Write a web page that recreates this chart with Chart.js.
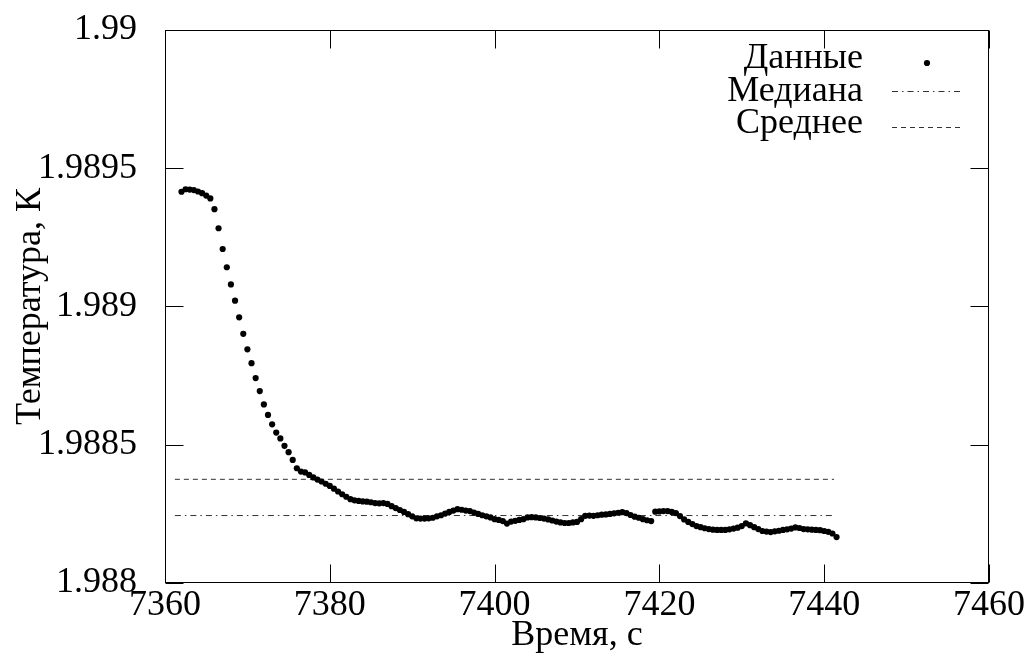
<!DOCTYPE html>
<html>
<head>
<meta charset="utf-8">
<script src="https://cdn.jsdelivr.net/npm/chart.js@4/dist/chart.umd.min.js"></script>
<style>
  body { margin: 0; background: #fff; }
</style>
</head>
<body>
<canvas id="tempChart" width="1027" height="659"></canvas>
<script>
// time, s
const times = [
  7362, 7362.5, 7363, 7363.5, 7364, 7364.5, 7365, 7365.5, 7366, 7366.5,
  7367, 7367.5, 7368, 7368.5, 7369, 7369.5, 7370, 7370.5, 7371, 7371.5,
  7372, 7372.5, 7373, 7373.5, 7374, 7374.5, 7375, 7375.5, 7376, 7376.5,
  7377, 7377.5, 7378, 7378.5, 7379, 7379.5, 7380, 7380.5, 7381, 7381.5,
  7382, 7382.5, 7383, 7383.5, 7384, 7384.5, 7385, 7385.5, 7386, 7386.5,
  7387, 7387.5, 7388, 7388.5, 7389, 7389.5, 7390, 7390.5, 7391, 7391.5,
  7392, 7392.5, 7393, 7393.5, 7394, 7394.5, 7395, 7395.5, 7396, 7396.5,
  7397, 7397.5, 7398, 7398.5, 7399, 7399.5, 7400, 7400.5, 7401, 7401.5,
  7402, 7402.5, 7403, 7403.5, 7404, 7404.5, 7405, 7405.5, 7406, 7406.5,
  7407, 7407.5, 7408, 7408.5, 7409, 7409.5, 7410, 7410.5, 7411, 7411.5,
  7412, 7412.5, 7413, 7413.5, 7414, 7414.5, 7415, 7415.5, 7416, 7416.5,
  7417, 7417.5, 7418, 7418.5, 7419, 7419.5, 7420, 7420.5, 7421, 7421.5,
  7422, 7422.5, 7423, 7423.5, 7424, 7424.5, 7425, 7425.5, 7426, 7426.5,
  7427, 7427.5, 7428, 7428.5, 7429, 7429.5, 7430, 7430.5, 7431, 7431.5,
  7432, 7432.5, 7433, 7433.5, 7434, 7434.5, 7435, 7435.5, 7436, 7436.5,
  7437, 7437.5, 7438, 7438.5, 7439, 7439.5, 7440, 7440.5, 7441, 7441.5
];

// temperature, K
const temps = [
  1.989415, 1.989424, 1.989423, 1.989421, 1.989416, 1.989410, 1.989401, 1.989391, 1.989352, 1.989283,
  1.989208, 1.989142, 1.989080, 1.989021, 1.988961, 1.988901, 1.988845, 1.988795, 1.988741, 1.988694,
  1.988646, 1.988608, 1.988574, 1.988544, 1.988523, 1.988496, 1.988473, 1.988445, 1.988415, 1.988403,
  1.988400, 1.988391, 1.988382, 1.988374, 1.988367, 1.988359, 1.988351, 1.988341, 1.988331, 1.988321,
  1.988312, 1.988303, 1.988299, 1.988297, 1.988295, 1.988294, 1.988292, 1.988289, 1.988288, 1.988289,
  1.988286, 1.988278, 1.988271, 1.988264, 1.988257, 1.988249, 1.988241, 1.988234, 1.988233, 1.988233,
  1.988234, 1.988236, 1.988241, 1.988245, 1.988251, 1.988257, 1.988262, 1.988267, 1.988265, 1.988262,
  1.988260, 1.988255, 1.988250, 1.988245, 1.988241, 1.988237, 1.988231, 1.988228, 1.988224, 1.988215,
  1.988222, 1.988225, 1.988228, 1.988231, 1.988237, 1.988238, 1.988237, 1.988235, 1.988233, 1.988230,
  1.988226, 1.988222, 1.988219, 1.988217, 1.988217, 1.988219, 1.988221, 1.988231, 1.988243, 1.988244,
  1.988243, 1.988245, 1.988247, 1.988248, 1.988250, 1.988252, 1.988254, 1.988256, 1.988253, 1.988246,
  1.988240, 1.988236, 1.988231, 1.988227, 1.988224, 1.988258, 1.988259, 1.988260, 1.988260, 1.988257,
  1.988253, 1.988242, 1.988230, 1.988221, 1.988213, 1.988206, 1.988202, 1.988198, 1.988195, 1.988193,
  1.988192, 1.988192, 1.988192, 1.988194, 1.988197, 1.988200, 1.988206, 1.988216, 1.988209, 1.988202,
  1.988195, 1.988188, 1.988186, 1.988184, 1.988187, 1.988189, 1.988192, 1.988194, 1.988197, 1.988201,
  1.988199, 1.988195, 1.988194, 1.988193, 1.988192, 1.988191, 1.988188, 1.988185, 1.988179, 1.988166
];

const medianValue = 1.988244;
const meanValue = 1.988375;
const lineSpan = [7361.2, 7441.2];

const seriesNames = ['Данные', 'Медиана', 'Среднее'];
const xTicks = [7360, 7380, 7400, 7420, 7440, 7460];
const yTicks = [1.988, 1.9885, 1.989, 1.9895, 1.99];

const FONT = "'Liberation Serif', 'DejaVu Serif', serif";
const FONT_SIZE = 36;

// gnuplot-like frame with inward ticks on all four sides + key in the upper right
const framePlugin = {
  id: 'frame',
  afterDraw(chart) {
    const ctx = chart.ctx;
    const a = chart.chartArea;
    const xs = chart.scales.x, ys = chart.scales.y;
    const L = Math.round(a.left) + 0.5, R = Math.round(a.right) - 0.5;
    const T = Math.round(a.top) + 0.5, B = Math.round(a.bottom) - 0.5;
    const tick = 18;

    ctx.save();
    ctx.strokeStyle = '#000';
    ctx.lineWidth = 1;
    ctx.setLineDash([]);
    ctx.strokeRect(L, T, R - L, B - T);

    ctx.beginPath();
    xTicks.forEach(v => {
      const px = Math.round(xs.getPixelForValue(v)) + 0.5;
      ctx.moveTo(px, B); ctx.lineTo(px, B - tick);
      ctx.moveTo(px, T); ctx.lineTo(px, T + tick);
    });
    yTicks.forEach(v => {
      const py = Math.round(ys.getPixelForValue(v)) + 0.5;
      ctx.moveTo(L, py); ctx.lineTo(L + tick, py);
      ctx.moveTo(R, py); ctx.lineTo(R - tick, py);
    });
    ctx.stroke();

    // key
    const textRight = 863;
    const sampleL = 892, sampleR = 962;
    const rowY = [59, 92, 124];
    const sampleY = [63, 91, 127];
    ctx.font = FONT_SIZE + 'px ' + FONT;
    ctx.fillStyle = '#000';
    ctx.textAlign = 'right';
    ctx.textBaseline = 'middle';
    chart.data.datasets.forEach((ds, i) => {
      ctx.fillText(ds.label, textRight, rowY[i]);
      if (i === 0) {
        ctx.beginPath();
        ctx.arc((sampleL + sampleR) / 2, sampleY[i], ds.pointRadius, 0, Math.PI * 2);
        ctx.fill();
      } else {
        ctx.beginPath();
        ctx.strokeStyle = ds.borderColor;
        ctx.lineWidth = ds.borderWidth;
        ctx.setLineDash(ds.borderDash);
        ctx.moveTo(sampleL, sampleY[i] + 0.5);
        ctx.lineTo(sampleR, sampleY[i] + 0.5);
        ctx.stroke();
      }
    });
    ctx.restore();
  }
};

const points = times.map((t, i) => ({ x: t, y: temps[i] }));

new Chart(document.getElementById('tempChart'), {
  type: 'scatter',
  data: {
    datasets: [
      {
        label: seriesNames[0],
        data: points,
        backgroundColor: '#000',
        borderColor: '#000',
        pointRadius: 3.1,
        pointBorderWidth: 0,
        showLine: false
      },
      {
        label: seriesNames[1],
        data: lineSpan.map(t => ({ x: t, y: medianValue })),
        showLine: true,
        borderColor: '#333',
        borderWidth: 1,
        borderDash: [6, 4, 1.5, 4],
        pointRadius: 0
      },
      {
        label: seriesNames[2],
        data: lineSpan.map(t => ({ x: t, y: meanValue })),
        showLine: true,
        borderColor: '#333',
        borderWidth: 1,
        borderDash: [5, 4],
        pointRadius: 0
      }
    ]
  },
  options: {
    responsive: false,
    animation: false,
    layout: { padding: { top: 30, right: 38, left: 0, bottom: 0 } },
    plugins: {
      legend: { display: false },
      tooltip: { enabled: false }
    },
    scales: {
      x: {
        type: 'linear',
        min: 7360,
        max: 7460,
        afterFit: (scale) => {
          scale.height = 76;
          scale.paddingLeft = 0;
          scale.paddingRight = 0;
        },
        afterBuildTicks: (scale) => { scale.ticks = xTicks.map(v => ({ value: v })); },
        grid: { display: false, drawTicks: false },
        border: { display: false },
        ticks: {
          color: '#000',
          padding: 1,
          maxRotation: 0,
          font: { family: FONT, size: FONT_SIZE },
          callback: (v) => String(v)
        },
        title: {
          display: true,
          text: 'Время, с',
          color: '#000',
          font: { family: FONT, size: FONT_SIZE },
          padding: { top: 0, bottom: 2 }
        }
      },
      y: {
        type: 'linear',
        min: 1.988,
        max: 1.990,
        afterFit: (scale) => {
          scale.width = 165;
          scale.paddingTop = 0;
          scale.paddingBottom = 0;
        },
        afterBuildTicks: (scale) => { scale.ticks = yTicks.map(v => ({ value: v })); },
        grid: { display: false, drawTicks: false },
        border: { display: false },
        ticks: {
          color: '#000',
          padding: 28,
          font: { family: FONT, size: FONT_SIZE },
          callback: (v) => String(Number(v.toFixed(4)))
        },
        title: {
          display: true,
          text: 'Температура, К',
          color: '#000',
          font: { family: FONT, size: FONT_SIZE },
          padding: { top: 9, bottom: 0 }
        }
      }
    }
  },
  plugins: [framePlugin]
});
</script>
</body>
</html>
